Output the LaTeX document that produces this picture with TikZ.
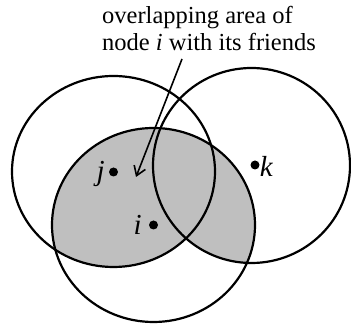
\documentclass[tikz,border=0pt]{standalone}
\usepackage{fontspec}
\setmainfont{Liberation Serif}
\usetikzlibrary{arrows.meta}
\begin{document}
\begin{tikzpicture}[x=1pt,y=1pt,
  ring/.style={draw=black,line width=2.2pt},
  shade/.style={fill=black!25},
  dot/.style={circle,fill=black,inner sep=0pt,minimum size=9pt},
  lab/.style={font=\fontsize{29}{33}\selectfont\itshape,inner sep=1pt}]
\useasboundingbox (0,0) rectangle (351,331);
\begin{scope}
  \clip (153.5,106) ellipse [x radius=101.5,y radius=97];
  \fill[shade] (113.5,159.5) ellipse [x radius=101.5,y radius=95.5];
  \fill[shade] (251.5,165.5) ellipse [x radius=98.5,y radius=97.5];
\end{scope}
\draw[ring] (113.5,159.5) ellipse [x radius=101.5,y radius=95.5];
\draw[ring] (153.5,106) ellipse [x radius=101.5,y radius=97];
\draw[ring] (251.5,165.5) ellipse [x radius=98.5,y radius=97.5];
\node[dot] (j) at (113.5,159) {};
\node[dot] (i) at (153.5,106) {};
\node[dot] (k) at (255,166) {};
\node[lab,anchor=east] (jl) at ([xshift=-3pt,yshift=-2pt]j.west) {j};
\node[lab,anchor=east] (il) at ([xshift=-6pt]i.west) {i};
\node[lab,anchor=west] (kl) at ([xshift=-1pt,yshift=-1pt]k.east) {k};
\node[align=left,anchor=west,font=\fontsize{24.5}{27}\selectfont,inner sep=0pt] (lbl) at (102,302)
  {overlapping area of\\node \textit{i} with its friends};
\coordinate (as) at (182,272);
\coordinate (ae) at (136,154);
\draw[line width=1.6pt,-{Straight Barb[length=9pt,width=12pt,line width=1.6pt]}] (as) -- (ae);
\end{tikzpicture}
\end{document}
